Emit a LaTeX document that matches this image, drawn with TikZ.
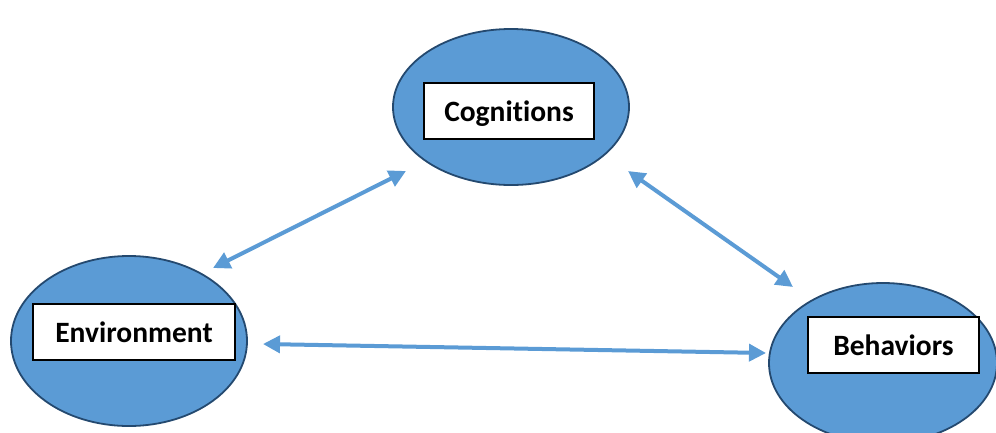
\documentclass[tikz,border=0pt]{standalone}
\usepackage{fontspec}
\setmainfont[Ligatures=NoCommon]{Carlito}
\usetikzlibrary{shapes.geometric,arrows.meta}
\definecolor{fillblue}{HTML}{5B9BD5}
\definecolor{edgeblue}{HTML}{24496F}
\begin{document}
\begin{tikzpicture}[x=1pt,y=-1pt,
  bubble/.style={ellipse,draw=edgeblue,line width=1.8pt,fill=fillblue,inner sep=0pt},
  labelbox/.style={draw=black,line width=1.2pt,fill=white,inner sep=0pt,text depth=0pt,font=\bfseries\fontsize{29.5}{32}\selectfont},
  link/.style={draw=fillblue,line width=4pt,{Triangle[length=17pt,width=17pt]}-{Triangle[length=17pt,width=17pt]}}]
\useasboundingbox (0,0) rectangle (996,432);
\clip (0,0) rectangle (996,432);
\node[bubble,minimum width=236pt,minimum height=156pt] (cogE) at (511,107) {};
\node[bubble,minimum width=236pt,minimum height=170pt] (envE) at (129,341) {};
\node[bubble,minimum width=228pt,minimum height=160pt] (behE) at (883,363) {};
\node[labelbox,minimum width=170pt,minimum height=56pt] (cog) at (509,111) {Cognitions};
\node[labelbox,minimum width=202pt,minimum height=56pt] (env) at (134,332) {Environment};
\node[labelbox,minimum width=171pt,minimum height=56pt] (beh) at (893.5,345) {Behaviors};
\coordinate (a1) at (213,268);
\coordinate (a2) at (406,171);
\coordinate (b1) at (628,171);
\coordinate (b2) at (793,287);
\coordinate (c1) at (263,344);
\coordinate (c2) at (766,353);
\draw[link] (a1) -- (a2);
\draw[link] (b1) -- (b2);
\draw[link] (c1) -- (c2);
\end{tikzpicture}
\end{document}
